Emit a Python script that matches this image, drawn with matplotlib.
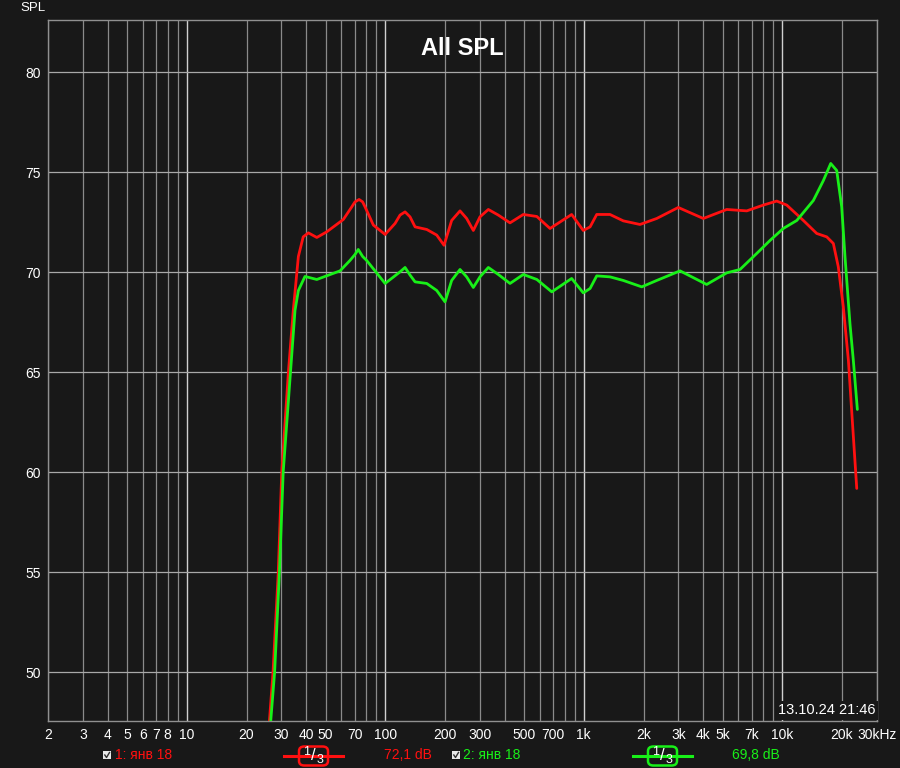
import matplotlib
matplotlib.use("Agg")
import matplotlib.pyplot as plt
from matplotlib.patches import FancyBboxPatch, Rectangle
from matplotlib.lines import Line2D

# measurement 1 (red)
red_freq = [25.0, 26.1, 27.2, 28.9, 30.1, 32.5, 34.4, 36.5, 38.6, 41.0, 45.2, 50.7,
            61.5, 67.8, 70.4, 73.8, 76.9, 79.1, 87.1, 99.8, 112, 118.7, 125.8, 133.3,
            141.3, 161.8, 181.6, 197.7, 216, 238, 257, 277.7, 300, 330.5, 371, 425,
            496, 580, 676, 869, 994, 1076, 1162, 1355, 1582, 1919, 2331, 2993, 4000,
            5248, 6624, 8027, 9377, 10530, 12770, 14910, 16750, 18080, 19150, 20300,
            21530, 23720]
red_spl = [45.0, 47.6, 50.0, 55.0, 60.0, 65.0, 68.1, 70.8, 71.78, 71.98, 71.75, 72.03,
           72.65, 73.28, 73.53, 73.65, 73.53, 73.28, 72.37, 71.9, 72.45, 72.87, 73.03,
           72.78, 72.28, 72.15, 71.87, 71.36, 72.6, 73.08, 72.7, 72.1, 72.78, 73.15,
           72.87, 72.48, 72.9, 72.8, 72.2, 72.9, 72.1, 72.28, 72.9, 72.9, 72.58, 72.4,
           72.7, 73.25, 72.7, 73.15, 73.08, 73.37, 73.57, 73.37, 72.6, 71.95, 71.78,
           71.45, 70.28, 68.28, 65.6, 59.2]

# measurement 2 (green)
green_freq = [25.4, 26.5, 27.7, 29.3, 30.6, 33.3, 35.1, 36.5, 39.4, 45.2, 59.2, 66.4,
              70.4, 73.1, 76.9, 80.6, 99.8, 118.7, 125.8, 133.3, 141.3, 161.8, 181.6,
              200, 216, 238, 257, 277.7, 300, 330.5, 371, 425, 496, 580, 690, 869, 994,
              1076, 1162, 1355, 1582, 1959, 2331, 3054, 4160, 5248, 6125, 7432, 8670,
              10120, 11830, 14340, 16110, 17540, 18800, 19920, 20700, 21930, 22800,
              23890]
green_spl = [45.0, 47.6, 50.0, 55.0, 60.0, 65.0, 68.1, 69.1, 69.8, 69.65, 70.08, 70.6,
             70.9, 71.15, 70.8, 70.6, 69.45, 70.03, 70.25, 69.87, 69.53, 69.45, 69.1,
             68.53, 69.6, 70.15, 69.78, 69.25, 69.78, 70.25, 69.9, 69.45, 69.9, 69.65,
             69.03, 69.7, 68.98, 69.2, 69.83, 69.78, 69.6, 69.28, 69.6, 70.08, 69.4,
             69.98, 70.15, 70.95, 71.6, 72.2, 72.6, 73.6, 74.6, 75.45, 75.1, 73.28,
             70.78, 67.43, 65.6, 63.15]

tick_freqs = [2, 3, 4, 5, 6, 7, 8, 10, 20, 30, 40, 50, 70, 100, 200, 300, 500, 700,
              1000, 2000, 3000, 4000, 5000, 7000, 10000, 20000, 30000]
tick_labels = ["2", "3", "4", "5", "6", "7", "8", "10", "20", "30", "40", "50", "70",
               "100", "200", "300", "500", "700", "1k", "2k", "3k", "4k", "5k", "7k",
               "10k", "20k", "30kHz"]
y_ticks = [50, 55, 60, 65, 70, 75, 80]

BG = "#181818"
RED = "#ff1010"
GREEN = "#18f018"
FONT = "Liberation Sans"

fig = plt.figure(figsize=(9, 7.68), dpi=100, facecolor=BG)
ax = fig.add_axes([48 / 900, 1 - 721 / 768, 829 / 900, 701.5 / 768])
ax.set_facecolor(BG)
ax.set_xscale("log")
ax.set_xlim(2, 30000)
ax.set_ylim(47.57, 82.65)

# grid lines
for dec in [1, 10, 100, 1000, 10000]:
    for m in range(1, 10):
        f = dec * m
        if f < 2 or f > 30000:
            continue
        if m == 1:
            ax.axvline(f, color="#d0d0d0", lw=1.0, zorder=1)
        else:
            ax.axvline(f, color="#8a8a8a", lw=0.9, zorder=1)
for y in y_ticks:
    ax.axhline(y, color="#a8a8a8", lw=0.9, zorder=1)

ax.plot(red_freq, red_spl, color=RED, lw=2.0, zorder=3,
        solid_joinstyle="round", solid_capstyle="round")
ax.plot(green_freq, green_spl, color=GREEN, lw=2.0, zorder=4,
        solid_joinstyle="round", solid_capstyle="round")

for s in ax.spines.values():
    s.set_color("#909090")
    s.set_linewidth(1.0)

ax.set_xticks(tick_freqs)
ax.set_xticklabels(tick_labels)
ax.xaxis.set_minor_locator(matplotlib.ticker.NullLocator())
ax.set_yticks(y_ticks)
ax.tick_params(length=0, colors="white", labelsize=10, pad=5)
for lab in ax.get_xticklabels() + ax.get_yticklabels():
    lab.set_fontfamily(FONT)
    lab.set_color("white")

ax.text(0.5, 0.975, "All SPL", transform=ax.transAxes, ha="center", va="top",
        color="white", fontsize=17, fontweight="bold", family=FONT)
ax.text(0.9985, 0.005, "13.10.24 21:46", transform=ax.transAxes, ha="right",
        va="bottom", color="white", fontsize=10.5, family=FONT, zorder=6,
        bbox=dict(facecolor=BG, edgecolor="none", pad=1.5))
fig.text(20 / 900, 1 - 8 / 768, "SPL", color="white", fontsize=9.5, family=FONT,
         ha="left", va="center")


# footer legend
def fx(px):
    return px / 900


def fy(py):
    return 1 - py / 768


def check_box(x0):
    fig.add_artist(Rectangle((fx(x0), fy(759)), 8 / 900, 8 / 768, facecolor="#e8e8e8",
                             edgecolor="none", transform=fig.transFigure))
    fig.add_artist(Line2D([fx(x0 + 1.8), fx(x0 + 3.5), fx(x0 + 6.5)],
                          [fy(755), fy(757.5), fy(752.5)], color="#303030", lw=1.0,
                          transform=fig.transFigure))


def smooth_box(x0, x1, color):
    yc = 755.5
    fig.add_artist(Line2D([fx(x0 - 15), fx(x1 + 15)], [fy(yc), fy(yc)],
                          color=color, lw=2.2, transform=fig.transFigure))
    fig.add_artist(FancyBboxPatch((fx(x0), fy(765.5)), fx(x1 - x0), 19 / 768,
                                  boxstyle="round,pad=0,rounding_size=0.006",
                                  facecolor=BG, edgecolor=color, lw=1.8,
                                  transform=fig.transFigure))
    fig.text(fx(x0 + 8), fy(752), "1", color="white", fontsize=9, family=FONT,
             ha="center", va="center")
    fig.text(fx(x0 + 14.5), fy(755.5), "/", color="white", fontsize=12, family=FONT,
             ha="center", va="center")
    fig.text(fx(x0 + 21), fy(760), "3", color="white", fontsize=9, family=FONT,
             ha="center", va="center")


check_box(103)
fig.text(fx(115), fy(755), "1: янв 18", color=RED, fontsize=10, family=FONT,
         ha="left", va="center")
smooth_box(299, 328, RED)
fig.text(fx(432), fy(755), "72,1 dB", color=RED, fontsize=10, family=FONT,
         ha="right", va="center")

check_box(452)
fig.text(fx(463), fy(755), "2: янв 18", color=GREEN, fontsize=10, family=FONT,
         ha="left", va="center")
smooth_box(648, 677, GREEN)
fig.text(fx(780), fy(755), "69,8 dB", color=GREEN, fontsize=10, family=FONT,
         ha="right", va="center")

fig.savefig("out.png", dpi=100, facecolor=BG)
